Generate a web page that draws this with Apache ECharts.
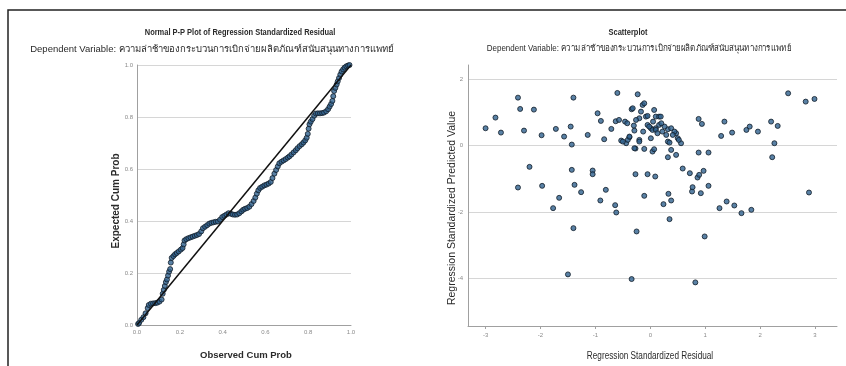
<!DOCTYPE html>
<html><head><meta charset="utf-8">
<script src="https://cdn.jsdelivr.net/npm/echarts@6/dist/echarts.min.js"></script>
<style>html,body{margin:0;padding:0;background:#fff}#c{width:846px;height:366px}</style>
</head><body><div id="c"></div>
<script>
// ---- P-P plot data (observed vs expected cumulative probability) ----
const ppObserved = [0.005,0.01,0.02,0.03,0.04,0.05,0.055,0.065,0.075,0.085,0.095,0.105,0.115,0.12,0.125,0.13,0.135,0.14,0.145,0.15,0.155,0.158,0.162,0.17,0.178,0.186,0.195,0.205,0.213,0.218,0.222,0.23,0.24,0.25,0.26,0.27,0.28,0.29,0.3,0.308,0.318,0.328,0.338,0.348,0.358,0.368,0.378,0.388,0.398,0.408,0.418,0.428,0.438,0.448,0.458,0.468,0.478,0.488,0.496,0.505,0.515,0.525,0.535,0.545,0.553,0.56,0.567,0.575,0.585,0.595,0.605,0.615,0.625,0.633,0.642,0.65,0.658,0.665,0.675,0.685,0.695,0.705,0.713,0.722,0.732,0.742,0.75,0.76,0.77,0.778,0.786,0.793,0.798,0.802,0.806,0.812,0.82,0.828,0.836,0.845,0.855,0.865,0.874,0.884,0.893,0.9,0.907,0.913,0.917,0.921,0.927,0.933,0.938,0.944,0.95,0.956,0.963,0.97,0.978,0.986,0.993];
const ppExpected = [0.004,0.008,0.02,0.03,0.045,0.065,0.077,0.082,0.083,0.084,0.086,0.09,0.098,0.12,0.135,0.15,0.165,0.175,0.19,0.205,0.215,0.24,0.258,0.265,0.272,0.277,0.283,0.29,0.296,0.31,0.325,0.33,0.334,0.337,0.34,0.343,0.346,0.35,0.36,0.372,0.378,0.384,0.39,0.393,0.395,0.397,0.398,0.405,0.415,0.42,0.425,0.43,0.428,0.425,0.424,0.425,0.43,0.437,0.443,0.447,0.45,0.455,0.465,0.477,0.49,0.505,0.518,0.527,0.532,0.537,0.54,0.544,0.55,0.565,0.582,0.596,0.61,0.622,0.628,0.633,0.638,0.644,0.649,0.656,0.664,0.672,0.68,0.688,0.695,0.702,0.71,0.72,0.735,0.755,0.772,0.782,0.792,0.805,0.813,0.814,0.814,0.815,0.817,0.822,0.83,0.84,0.85,0.862,0.88,0.9,0.912,0.925,0.937,0.95,0.963,0.975,0.983,0.99,0.995,0.998,1.0];
const ppTicks = [0, 0.2, 0.4, 0.6, 0.8, 1.0];

// ---- Scatterplot data (standardized residual, standardized predicted value) ----
const residual = [-3.00,-2.82,-2.72,-2.41,-2.37,-2.30,-2.12,-2.41,-2.20,-1.98,-1.97,-1.72,-1.66,-1.77,-1.57,-1.45,-1.43,-1.40,-1.43,-1.38,-1.26,-1.40,-1.50,-1.14,-1.05,-1.05,-0.91,-0.81,-0.96,-0.90,-0.84,-0.71,-0.64,-0.62,-0.60,-0.63,-0.57,-0.53,-0.46,-0.42,-0.44,-0.38,-0.34,-0.29,-0.27,-0.27,-0.25,-0.34,-0.23,
 -0.14,-0.17,-0.20,-0.26,-0.11,-0.08,0.07,0.10,0.16,0.19,-0.05,0.01,0.04,0.10,0.16,0.22,0.32,0.38,0.29,0.32,0.35,0.47,0.50,0.56,-0.41,-0.38,-0.29,-0.20,-0.11,0.01,0.04,0.07,0.32,0.38,0.47,
 -0.32,-0.05,-0.02,0.26,-0.50,-0.20,0.10,0.52,0.44,0.41,-0.13,0.13,0.20,0.05,-0.30,
 0.59,0.72,0.86,0.89,0.97,0.88,1.06,0.88,0.94,1.06,0.92,0.76,0.77,-0.05,0.09,-0.11,0.24,0.33,0.38,0.35,0.99,0.82,1.26,1.39,1.53,1.66,1.84,1.29,1.35,1.49,1.75,1.81,1.96,2.20,2.32,2.26,2.22,2.51,2.83,2.99,2.89];
const predicted = [0.52,0.84,0.39,1.44,1.10,0.45,1.08,-1.26,-0.64,0.31,-1.21,0.50,-1.57,-1.88,0.27,0.57,0.03,1.44,-0.73,-1.18,-1.40,-2.48,-3.87,0.32,-0.75,-0.86,-1.65,-1.33,0.97,0.74,0.19,0.50,-1.79,-2.01,1.58,0.73,0.77,0.15,0.72,0.67,0.07,0.25,1.09,0.45,-0.09,-0.86,-2.58,-4.01,1.54,
 1.22,1.02,0.82,0.77,1.27,0.87,1.07,0.87,0.87,0.87,0.62,0.52,0.47,0.52,0.62,0.42,0.49,0.52,0.32,0.12,0.09,0.37,0.22,0.07,0.17,0.27,-0.08,0.17,-0.10,0.22,-0.18,-0.11,-0.35,-0.13,-0.28,
 1.12,0.89,0.57,0.57,0.12,0.12,0.47,0.17,0.42,0.32,0.42,0.37,0.67,0.72,0.60,
 -0.69,-0.83,-0.96,-0.88,-0.76,-0.21,-0.21,0.80,0.65,-1.21,-1.43,-1.38,-1.25,-0.86,-0.93,-1.51,-1.76,-1.45,-1.65,-2.21,-2.73,-4.11,-1.88,-1.68,-1.80,-2.03,-1.93,0.29,0.72,0.39,0.47,0.57,0.42,0.72,0.59,0.07,-0.35,1.57,1.32,1.40,-1.41];
const residTicks = [-3, -2, -1, 0, 1, 2, 3];
const predTicks = [2, 0, -2, -4];

const depVar = 'Dependent Variable: ความล่าช้าของกระบวนการเบิกจ่ายผลิตภัณฑ์สนับสนุนทางการแพทย์';

const FONT = '"Liberation Sans", Arial, sans-serif';
const ppData = ppObserved.map((x, i) => [x, ppExpected[i]]);
const scData = residual.map((x, i) => [x, predicted[i]]);

const markerStyle = { color: '#30618e', borderColor: '#121d28', borderWidth: 1 };
const labelStyle = { color: '#8a8a8a', fontSize: 6, fontFamily: FONT };
const axisLineStyle = { show: true, onZero: false, lineStyle: { color: '#a0a0a0', width: 1 } };
const splitStyle = { show: true, lineStyle: { color: '#d6d6d6', width: 1 } };

function txt(x, y, text, size, opts) {
  opts = opts || {};
  return { type: 'text', x: x, y: y, rotation: opts.rot || 0, scaleX: opts.sx || 1, scaleY: 1,
    style: { text: text, fontSize: size, fontWeight: opts.bold ? 'bold' : 'normal', fill: '#2a2a2a',
      fontFamily: FONT, textAlign: 'center', textVerticalAlign: 'middle' } };
}

const chart = echarts.init(document.getElementById('c'), null, { renderer: 'canvas' });
chart.setOption({
  animation: false,
  backgroundColor: '#fff',
  grid: [
    { left: 137, top: 65, width: 214, height: 260 },
    { left: 468, top: 65, width: 369, height: 261 }
  ],
  xAxis: [
    { gridIndex: 0, type: 'value', min: 0, max: 1, interval: 0.2,
      axisLine: axisLineStyle, axisTick: { show: false }, splitLine: { show: false },
      axisLabel: Object.assign({ margin: 4, formatter: v => v.toFixed(1) }, labelStyle) },
    { gridIndex: 1, type: 'value', min: -3.32, max: 3.4,
      axisLine: axisLineStyle, splitLine: { show: false },
      axisTick: { show: true, customValues: residTicks, length: 3, lineStyle: { color: '#a0a0a0' } },
      axisLabel: Object.assign({ margin: 6, customValues: residTicks }, labelStyle) }
  ],
  yAxis: [
    { gridIndex: 0, type: 'value', min: 0, max: 1, interval: 0.2,
      axisLine: axisLineStyle, axisTick: { show: false }, splitLine: splitStyle,
      axisLabel: Object.assign({ margin: 4, formatter: v => v.toFixed(1) }, labelStyle) },
    { gridIndex: 1, type: 'value', min: -5.42, max: 2.42,
      axisLine: axisLineStyle, splitLine: splitStyle,
      axisTick: { show: false, customValues: predTicks },
      axisLabel: Object.assign({ margin: 5, customValues: predTicks }, labelStyle) }
  ],
  series: [
    { type: 'line', xAxisIndex: 0, yAxisIndex: 0, data: [[0, 0], [1, 1]], symbol: 'none',
      lineStyle: { color: '#111', width: 1.5 }, z: 3 },
    { type: 'scatter', xAxisIndex: 0, yAxisIndex: 0, data: ppData, symbolSize: 5,
      itemStyle: markerStyle, z: 2 },
    { type: 'scatter', xAxisIndex: 1, yAxisIndex: 1, data: scData, symbolSize: 5,
      itemStyle: markerStyle }
  ],
  graphic: [
    { type: 'polyline', shape: { points: [[8, 366], [8, 10], [846, 10]] },
      style: { stroke: '#222', lineWidth: 1.5, fill: null } },
    txt(240, 33, 'Normal P-P Plot of Regression Standardized Residual', 9, { bold: true, sx: 0.83 }),
    txt(212, 49, depVar, 9.5),
    txt(628, 33, 'Scatterplot', 9, { bold: true, sx: 0.83 }),
    txt(639, 49, depVar, 9, { sx: 0.885 }),
    txt(116, 201, 'Expected Cum Prob', 10, { bold: true, rot: Math.PI / 2 }),
    txt(246, 355, 'Observed Cum Prob', 9.5, { bold: true }),
    txt(452, 208, 'Regression Standardized Predicted Value', 10.5, { rot: Math.PI / 2 }),
    txt(650, 356, 'Regression Standardized Residual', 10, { sx: 0.82 })
  ]
});
</script></body></html>
